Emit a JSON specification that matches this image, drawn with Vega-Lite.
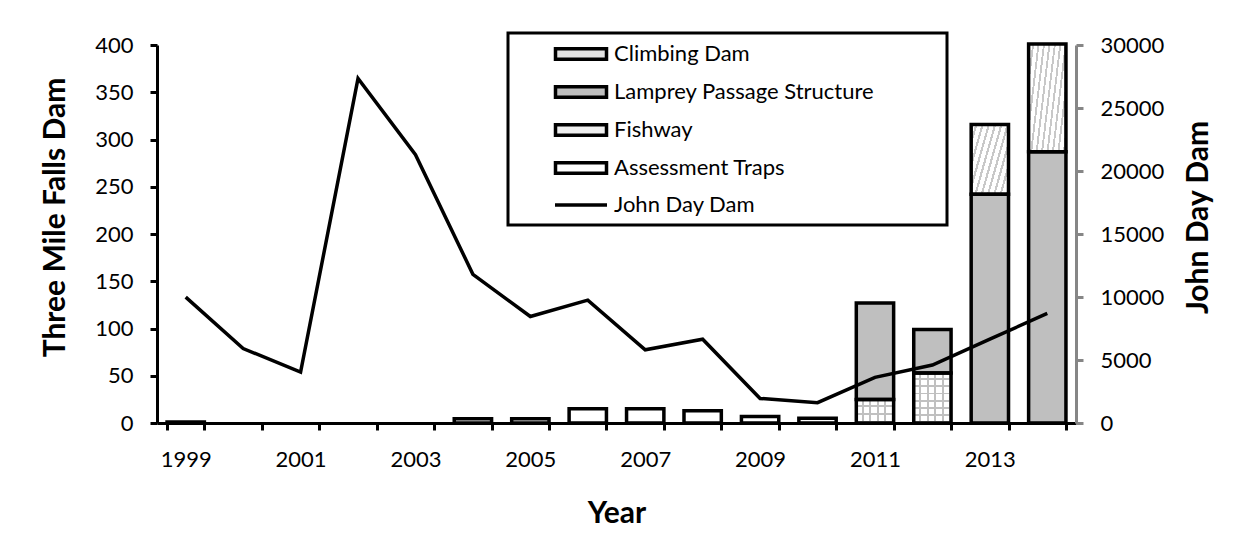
{
  "$schema": "https://vega.github.io/schema/vega-lite/v6.json",
  "width": 919,
  "height": 378,
  "autosize": "none",
  "padding": {"left": 157, "top": 45, "right": 176, "bottom": 134},
  "background": "white",
  "datasets": {
    "bars": [
      {"Year": "1999", "Category": "Assessment Traps", "Count": 1},
      {"Year": "2004", "Category": "Assessment Traps", "Count": 4.5},
      {"Year": "2005", "Category": "Assessment Traps", "Count": 4.5},
      {"Year": "2006", "Category": "Assessment Traps", "Count": 15},
      {"Year": "2007", "Category": "Assessment Traps", "Count": 15},
      {"Year": "2008", "Category": "Assessment Traps", "Count": 13},
      {"Year": "2009", "Category": "Assessment Traps", "Count": 7},
      {"Year": "2010", "Category": "Assessment Traps", "Count": 5},
      {"Year": "2011", "Category": "Fishway", "Count": 25},
      {"Year": "2011", "Category": "Lamprey Passage Structure", "Count": 102},
      {"Year": "2012", "Category": "Fishway", "Count": 53},
      {"Year": "2012", "Category": "Lamprey Passage Structure", "Count": 46},
      {"Year": "2013", "Category": "Lamprey Passage Structure", "Count": 242},
      {"Year": "2013", "Category": "Climbing Dam", "Count": 74},
      {"Year": "2014", "Category": "Lamprey Passage Structure", "Count": 287},
      {"Year": "2014", "Category": "Climbing Dam", "Count": 114}
    ],
    "line": [
      {"Year": "1999", "JohnDay": 9990},
      {"Year": "2000", "JohnDay": 5910},
      {"Year": "2001", "JohnDay": 4040},
      {"Year": "2002", "JohnDay": 27340},
      {"Year": "2003", "JohnDay": 21300},
      {"Year": "2004", "JohnDay": 11800},
      {"Year": "2005", "JohnDay": 8450},
      {"Year": "2006", "JohnDay": 9750},
      {"Year": "2007", "JohnDay": 5810},
      {"Year": "2008", "JohnDay": 6650},
      {"Year": "2009", "JohnDay": 1950},
      {"Year": "2010", "JohnDay": 1610},
      {"Year": "2011", "JohnDay": 3620},
      {"Year": "2012", "JohnDay": 4600},
      {"Year": "2013", "JohnDay": 6650},
      {"Year": "2014", "JohnDay": 8700}
    ]
  },
  "config": {
    "font": "Lato",
    "view": {"stroke": null},
    "axis": {
      "labelFont": "Lato",
      "labelFontSize": 22,
      "labelColor": "black",
      "titleFont": "Lato",
      "titleFontSize": 30,
      "titleFontWeight": "bold",
      "titleColor": "black",
      "domainColor": "black",
      "domainWidth": 3,
      "tickColor": "black",
      "tickWidth": 3,
      "tickSize": 7,
      "grid": false
    },
    "legend": {
      "orient": "none",
      "legendX": 351,
      "legendY": -12,
      "padding": 9,
      "rowPadding": 12,
      "symbolSize": 400,
      "symbolOffset": 52,
      "labelOffset": 21,
      "labelLimit": 0,
      "labelFont": "Lato",
      "labelFontSize": 22,
      "labelColor": "black",
      "strokeColor": "black",
      "fillColor": "white",
      "symbolStrokeColor": "black",
      "symbolStrokeWidth": 3.5
    }
  },
  "encoding": {
    "x": {
      "field": "Year",
      "type": "ordinal",
      "scale": {
        "domain": ["1999","2000","2001","2002","2003","2004","2005","2006","2007","2008","2009","2010","2011","2012","2013","2014"],
        "paddingInner": 0.35,
        "paddingOuter": 0.175
      },
      "axis": {
        "title": "Year",
        "labelAngle": 0,
        "labelExpr": "toNumber(datum.value) % 2 === 1 ? datum.value : ''",
        "tickBand": "extent",
        "labelPadding": 19,
        "titlePadding": 28
      }
    }
  },
  "layer": [
    {
      "data": {"name": "bars"},
      "transform": [{"stack": "Count", "groupby": ["Year"], "as": ["y0", "y1"]}],
      "encoding": {
        "y": {
          "field": "y1",
          "type": "quantitative",
          "scale": {"domain": [0, 400], "nice": false},
          "axis": {
            "title": "Three Mile Falls Dam",
            "values": [0, 50, 100, 150, 200, 250, 300, 350, 400],
            "labelFlush": false,
            "labelPadding": 17,
            "titlePadding": 24,
            "titleY": 172
          }
        },
        "y2": {"field": "y0"}
      },
      "layer": [
        {
          "mark": {"type": "bar"},
          "encoding": {
            "color": {
              "field": "Category",
              "type": "nominal",
              "scale": {
                "domain": ["Climbing Dam", "Lamprey Passage Structure", "Fishway", "Assessment Traps", "John Day Dam"],
                "range": ["#e2e2e2", "#bfbfbf", "#efefef", "#ffffff", "#000000"]
              },
              "legend": {
                "title": "\u00a0",
                "titleOrient": "right",
                "titlePadding": 64,
                "titleFontSize": 22,
                "symbolStrokeColor": "black",
                "symbolStrokeWidth": 3.5,
                "encode": {
                  "legend": {"update": {"strokeWidth": {"value": 3}}},
                  "symbols": {
                    "update": {
                      "shape": {"signal": "datum.value === 'John Day Dam' ? 'M-2.6,0H2.6' : 'M-2.55,-0.53H2.55V0.53H-2.55Z'"},
                      "stroke": {"value": "black"},
                      "strokeWidth": {"value": 3.5},
                      "opacity": {"value": 1}
                    }
                  }
                }
              }
            }
          }
        },
        {
          "transform": [{"filter": "datum.Category === 'Climbing Dam' && datum.Year === '2014'"}],
          "mark": {
            "type": "bar",
            "fill": {
              "gradient": "linear", "x1": 0, "y1": 0, "x2": 1.956, "y2": 0.672,
              "stops": [
                {"offset": 0, "color": "white"}, {"offset": 0.0433, "color": "white"}, {"offset": 0.0433, "color": "#c8c8c8"}, {"offset": 0.0667, "color": "#c8c8c8"},
                {"offset": 0.0667, "color": "white"}, {"offset": 0.11, "color": "white"}, {"offset": 0.11, "color": "#c8c8c8"}, {"offset": 0.1333, "color": "#c8c8c8"},
                {"offset": 0.1333, "color": "white"}, {"offset": 0.1767, "color": "white"}, {"offset": 0.1767, "color": "#c8c8c8"}, {"offset": 0.2, "color": "#c8c8c8"},
                {"offset": 0.2, "color": "white"}, {"offset": 0.2433, "color": "white"}, {"offset": 0.2433, "color": "#c8c8c8"}, {"offset": 0.2667, "color": "#c8c8c8"},
                {"offset": 0.2667, "color": "white"}, {"offset": 0.31, "color": "white"}, {"offset": 0.31, "color": "#c8c8c8"}, {"offset": 0.3333, "color": "#c8c8c8"},
                {"offset": 0.3333, "color": "white"}, {"offset": 0.3767, "color": "white"}, {"offset": 0.3767, "color": "#c8c8c8"}, {"offset": 0.4, "color": "#c8c8c8"},
                {"offset": 0.4, "color": "white"}, {"offset": 0.4433, "color": "white"}, {"offset": 0.4433, "color": "#c8c8c8"}, {"offset": 0.4667, "color": "#c8c8c8"},
                {"offset": 0.4667, "color": "white"}, {"offset": 0.51, "color": "white"}, {"offset": 0.51, "color": "#c8c8c8"}, {"offset": 0.5333, "color": "#c8c8c8"},
                {"offset": 0.5333, "color": "white"}, {"offset": 0.5767, "color": "white"}, {"offset": 0.5767, "color": "#c8c8c8"}, {"offset": 0.6, "color": "#c8c8c8"},
                {"offset": 0.6, "color": "white"}, {"offset": 0.6433, "color": "white"}, {"offset": 0.6433, "color": "#c8c8c8"}, {"offset": 0.6667, "color": "#c8c8c8"},
                {"offset": 0.6667, "color": "white"}, {"offset": 0.71, "color": "white"}, {"offset": 0.71, "color": "#c8c8c8"}, {"offset": 0.7333, "color": "#c8c8c8"},
                {"offset": 0.7333, "color": "white"}, {"offset": 0.7767, "color": "white"}, {"offset": 0.7767, "color": "#c8c8c8"}, {"offset": 0.8, "color": "#c8c8c8"},
                {"offset": 0.8, "color": "white"}, {"offset": 0.8433, "color": "white"}, {"offset": 0.8433, "color": "#c8c8c8"}, {"offset": 0.8667, "color": "#c8c8c8"},
                {"offset": 0.8667, "color": "white"}, {"offset": 0.91, "color": "white"}, {"offset": 0.91, "color": "#c8c8c8"}, {"offset": 0.9333, "color": "#c8c8c8"},
                {"offset": 0.9333, "color": "white"}, {"offset": 0.9767, "color": "white"}, {"offset": 0.9767, "color": "#c8c8c8"}, {"offset": 1, "color": "#c8c8c8"}
              ]
            }
          }
        },
        {
          "transform": [{"filter": "datum.Category === 'Climbing Dam' && datum.Year === '2013'"}],
          "mark": {
            "type": "bar",
            "fill": {
              "gradient": "linear", "x1": 0, "y1": 0, "x2": 1.445, "y2": 0.765,
              "stops": [
                {"offset": 0, "color": "white"}, {"offset": 0.0591, "color": "white"}, {"offset": 0.0591, "color": "#c8c8c8"}, {"offset": 0.0909, "color": "#c8c8c8"},
                {"offset": 0.0909, "color": "white"}, {"offset": 0.15, "color": "white"}, {"offset": 0.15, "color": "#c8c8c8"}, {"offset": 0.1818, "color": "#c8c8c8"},
                {"offset": 0.1818, "color": "white"}, {"offset": 0.2409, "color": "white"}, {"offset": 0.2409, "color": "#c8c8c8"}, {"offset": 0.2727, "color": "#c8c8c8"},
                {"offset": 0.2727, "color": "white"}, {"offset": 0.3318, "color": "white"}, {"offset": 0.3318, "color": "#c8c8c8"}, {"offset": 0.3636, "color": "#c8c8c8"},
                {"offset": 0.3636, "color": "white"}, {"offset": 0.4227, "color": "white"}, {"offset": 0.4227, "color": "#c8c8c8"}, {"offset": 0.4545, "color": "#c8c8c8"},
                {"offset": 0.4545, "color": "white"}, {"offset": 0.5136, "color": "white"}, {"offset": 0.5136, "color": "#c8c8c8"}, {"offset": 0.5455, "color": "#c8c8c8"},
                {"offset": 0.5455, "color": "white"}, {"offset": 0.6045, "color": "white"}, {"offset": 0.6045, "color": "#c8c8c8"}, {"offset": 0.6364, "color": "#c8c8c8"},
                {"offset": 0.6364, "color": "white"}, {"offset": 0.6955, "color": "white"}, {"offset": 0.6955, "color": "#c8c8c8"}, {"offset": 0.7273, "color": "#c8c8c8"},
                {"offset": 0.7273, "color": "white"}, {"offset": 0.7864, "color": "white"}, {"offset": 0.7864, "color": "#c8c8c8"}, {"offset": 0.8182, "color": "#c8c8c8"},
                {"offset": 0.8182, "color": "white"}, {"offset": 0.8773, "color": "white"}, {"offset": 0.8773, "color": "#c8c8c8"}, {"offset": 0.9091, "color": "#c8c8c8"},
                {"offset": 0.9091, "color": "white"}, {"offset": 0.9682, "color": "white"}, {"offset": 0.9682, "color": "#c8c8c8"}, {"offset": 1, "color": "#c8c8c8"}
              ]
            }
          }
        },
        {
          "transform": [{"filter": "datum.Category === 'Fishway'"}],
          "mark": {
            "type": "bar",
            "fill": {
              "gradient": "linear", "x1": 0, "y1": 0, "x2": 1, "y2": 0,
              "stops": [
                {"offset": 0, "color": "white"}, {"offset": 0.15, "color": "white"}, {"offset": 0.15, "color": "#c0c0c0"}, {"offset": 0.2, "color": "#c0c0c0"},
                {"offset": 0.2, "color": "white"}, {"offset": 0.35, "color": "white"}, {"offset": 0.35, "color": "#c0c0c0"}, {"offset": 0.4, "color": "#c0c0c0"},
                {"offset": 0.4, "color": "white"}, {"offset": 0.55, "color": "white"}, {"offset": 0.55, "color": "#c0c0c0"}, {"offset": 0.6, "color": "#c0c0c0"},
                {"offset": 0.6, "color": "white"}, {"offset": 0.75, "color": "white"}, {"offset": 0.75, "color": "#c0c0c0"}, {"offset": 0.8, "color": "#c0c0c0"},
                {"offset": 0.8, "color": "white"}, {"offset": 0.95, "color": "white"}, {"offset": 0.95, "color": "#c0c0c0"}, {"offset": 1, "color": "#c0c0c0"}
              ]
            }
          }
        },
        {
          "transform": [{"filter": "datum.Category === 'Fishway' && datum.Year === '2011'"}],
          "mark": {
            "type": "bar",
            "fill": {
              "gradient": "linear", "x1": 0, "y1": 0, "x2": 0, "y2": 1,
              "stops": [
                {"offset": 0, "color": "rgba(255,255,255,0)"}, {"offset": 0.25, "color": "rgba(255,255,255,0)"}, {"offset": 0.25, "color": "#c0c0c0"}, {"offset": 0.3333, "color": "#c0c0c0"},
                {"offset": 0.3333, "color": "rgba(255,255,255,0)"}, {"offset": 0.5833, "color": "rgba(255,255,255,0)"}, {"offset": 0.5833, "color": "#c0c0c0"}, {"offset": 0.6667, "color": "#c0c0c0"},
                {"offset": 0.6667, "color": "rgba(255,255,255,0)"}, {"offset": 0.9167, "color": "rgba(255,255,255,0)"}, {"offset": 0.9167, "color": "#c0c0c0"}, {"offset": 1, "color": "#c0c0c0"}
              ]
            }
          }
        },
        {
          "transform": [{"filter": "datum.Category === 'Fishway' && datum.Year === '2012'"}],
          "mark": {
            "type": "bar",
            "fill": {
              "gradient": "linear", "x1": 0, "y1": 0, "x2": 0, "y2": 1,
              "stops": [
                {"offset": 0, "color": "rgba(255,255,255,0)"}, {"offset": 0.1071, "color": "rgba(255,255,255,0)"}, {"offset": 0.1071, "color": "#c0c0c0"}, {"offset": 0.1429, "color": "#c0c0c0"},
                {"offset": 0.1429, "color": "rgba(255,255,255,0)"}, {"offset": 0.25, "color": "rgba(255,255,255,0)"}, {"offset": 0.25, "color": "#c0c0c0"}, {"offset": 0.2857, "color": "#c0c0c0"},
                {"offset": 0.2857, "color": "rgba(255,255,255,0)"}, {"offset": 0.3929, "color": "rgba(255,255,255,0)"}, {"offset": 0.3929, "color": "#c0c0c0"}, {"offset": 0.4286, "color": "#c0c0c0"},
                {"offset": 0.4286, "color": "rgba(255,255,255,0)"}, {"offset": 0.5357, "color": "rgba(255,255,255,0)"}, {"offset": 0.5357, "color": "#c0c0c0"}, {"offset": 0.5714, "color": "#c0c0c0"},
                {"offset": 0.5714, "color": "rgba(255,255,255,0)"}, {"offset": 0.6786, "color": "rgba(255,255,255,0)"}, {"offset": 0.6786, "color": "#c0c0c0"}, {"offset": 0.7143, "color": "#c0c0c0"},
                {"offset": 0.7143, "color": "rgba(255,255,255,0)"}, {"offset": 0.8214, "color": "rgba(255,255,255,0)"}, {"offset": 0.8214, "color": "#c0c0c0"}, {"offset": 0.8571, "color": "#c0c0c0"},
                {"offset": 0.8571, "color": "rgba(255,255,255,0)"}, {"offset": 0.9643, "color": "rgba(255,255,255,0)"}, {"offset": 0.9643, "color": "#c0c0c0"}, {"offset": 1, "color": "#c0c0c0"}
              ]
            }
          }
        },
        {
          "mark": {"type": "bar", "fillOpacity": 0, "stroke": "black", "strokeWidth": 3.5}
        }
      ]
    },
    {
      "data": {"name": "line"},
      "mark": {"type": "line", "color": "black", "strokeWidth": 3.5, "strokeJoin": "miter"},
      "encoding": {
        "y": {
          "field": "JohnDay",
          "type": "quantitative",
          "scale": {"domain": [0, 30000], "nice": false},
          "axis": {
            "orient": "right",
            "title": "John Day Dam",
            "values": [0, 5000, 10000, 15000, 20000, 25000, 30000],
            "format": "d",
            "labelFlush": false,
            "domainColor": "#868686",
            "tickColor": "#868686",
            "labelPadding": 17,
            "titleAngle": 270,
            "titlePadding": 50,
            "titleY": 172
          }
        }
      }
    }
  ],
  "resolve": {"scale": {"y": "independent"}}
}
